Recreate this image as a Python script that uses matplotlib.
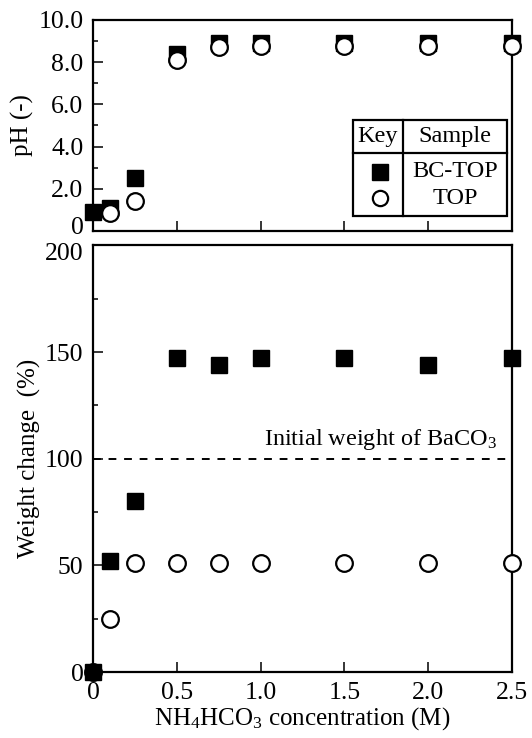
import matplotlib.pyplot as plt
from matplotlib.ticker import MultipleLocator
from matplotlib.transforms import ScaledTranslation

plt.rcParams["font.family"] = ["Liberation Serif", "DejaVu Serif"]
plt.rcParams["mathtext.default"] = "regular"

conc = [0, 0.1, 0.25, 0.5, 0.75, 1.0, 1.5, 2.0, 2.5]

ph_bctop = [0.9, 1.1, 2.5, 8.4, 8.9, 8.9, 8.9, 8.9, 8.9]
ph_top = [0.8, 0.85, 1.4, 8.1, 8.7, 8.75, 8.75, 8.75, 8.75]

wt_bctop = [0, 52, 80, 147, 144, 147, 147, 144, 147]
wt_top = [0, 25, 51, 51, 51, 51, 51, 51, 51]

fig = plt.figure(figsize=(5.32, 7.38), dpi=100)
ax1 = fig.add_axes([0.175, 0.687, 0.787, 0.286])
ax2 = fig.add_axes([0.175, 0.0894, 0.787, 0.578])

sq = dict(marker="s", color="black", ms=12, ls="none", clip_on=False)
ci = dict(marker="o", mfc="white", mec="black", mew=1.6, ms=12, ls="none",
          clip_on=False)

# pH panel: circles above squares, except the first point
ax1.plot(conc, ph_bctop, zorder=3, **sq)
ax1.plot(conc[1:], ph_top[1:], zorder=4, **ci)
ax1.set_xlim(0, 2.5)
ax1.set_ylim(0, 10)
ax1.set_yticks([0, 2, 4, 6, 8, 10])
ax1.set_yticklabels(["0", "2.0", "4.0", "6.0", "8.0", "10.0"])
ax1.yaxis.set_minor_locator(MultipleLocator(1))
ax1.set_xticks([0, 0.5, 1.0, 1.5, 2.0, 2.5])
ax1.tick_params(labelbottom=False)
ax1.set_ylabel("pH (-)", fontsize=18, labelpad=3)

# key table
tx = ax1.transAxes
x0, x1, xm = 0.62, 0.988, 0.74
y0, y1, ym = 0.071, 0.526, 0.37
ax1.add_patch(plt.Rectangle((x0, y0), x1 - x0, y1 - y0, transform=tx,
                            fill=True, fc="white", ec="black", lw=1.6, zorder=5))
ax1.plot([xm, xm], [y0, y1], transform=tx, color="black", lw=1.6, zorder=6)
ax1.plot([x0, x1], [ym, ym], transform=tx, color="black", lw=1.6, zorder=6)
ax1.text((x0 + xm) / 2, (ym + y1) / 2, "Key", transform=tx, ha="center",
         va="center", fontsize=17.5, zorder=7)
ax1.text((xm + x1) / 2, (ym + y1) / 2, "Sample", transform=tx, ha="center",
         va="center", fontsize=17.5, zorder=7)
ax1.plot([0.685], [0.28], transform=tx, marker="s", color="black", ms=11,
         ls="none", zorder=7)
ax1.plot([0.685], [0.156], transform=tx, marker="o", mfc="white", mec="black",
         mew=1.6, ms=11, ls="none", zorder=7)
ax1.text((xm + x1) / 2, 0.28, "BC-TOP", transform=tx, ha="center",
         va="center", fontsize=17.5, zorder=7)
ax1.text((xm + x1) / 2, 0.156, "TOP", transform=tx, ha="center",
         va="center", fontsize=17.5, zorder=7)

# weight panel
ax2.plot(conc, wt_top, zorder=3, **ci)
ax2.plot(conc, wt_bctop, zorder=4, **sq)
ax2.axhline(100, xmin=0, xmax=0.985, color="black", ls=(0, (4, 4)), lw=1.4)
ax2.text(2.41, 103, "Initial weight of BaCO$_3$", ha="right", va="bottom",
         fontsize=17.5)
ax2.set_xlim(0, 2.5)
ax2.set_ylim(0, 200)
ax2.set_yticks([0, 50, 100, 150, 200])
ax2.yaxis.set_minor_locator(MultipleLocator(25))
ax2.set_xticks([0, 0.5, 1.0, 1.5, 2.0, 2.5])
ax2.set_xticklabels(["0", "0.5", "1.0", "1.5", "2.0", "2.5"])
ax2.set_xlabel("NH$_4$HCO$_3$ concentration (M)", fontsize=18, labelpad=1)
ax2.set_ylabel("Weight change  (%)", fontsize=18, labelpad=3)

for ax in (ax1, ax2):
    for s in ax.spines.values():
        s.set_linewidth(1.6)
    ax.tick_params(which="major", direction="in", length=7, width=1.1,
                   labelsize=18.5, pad=7)
    ax.tick_params(which="minor", direction="in", length=3.5, width=1.1)

# nudge the two labels that meet between the panels
lab0 = ax1.get_yticklabels()[0]
lab0.set_transform(lab0.get_transform() + ScaledTranslation(0, 4 / 72, fig.dpi_scale_trans))
lab200 = ax2.get_yticklabels()[-1]
lab200.set_transform(lab200.get_transform() + ScaledTranslation(0, -4 / 72, fig.dpi_scale_trans))

fig.savefig("out.png", dpi=100)
